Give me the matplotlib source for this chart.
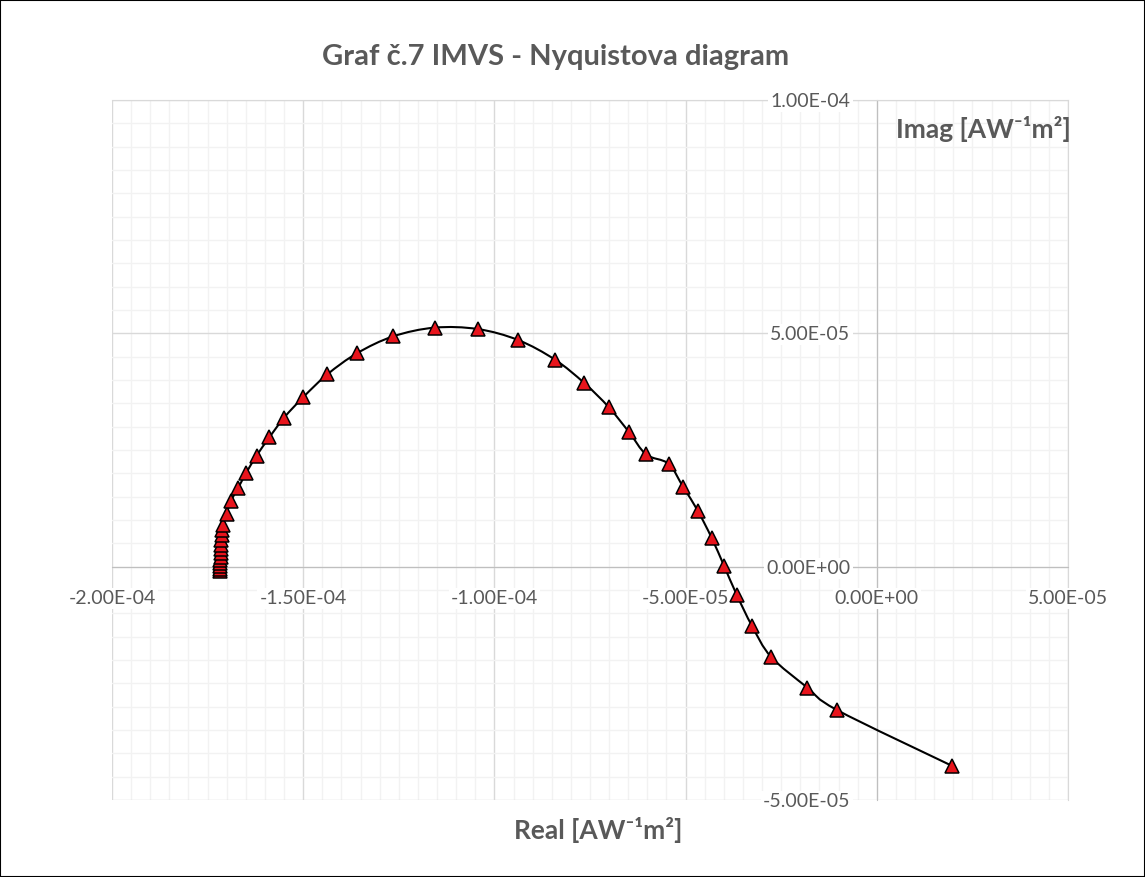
import numpy as np
import matplotlib
matplotlib.use("Agg")
import matplotlib.pyplot as plt
from matplotlib.path import Path
from matplotlib.patches import PathPatch, Rectangle
from matplotlib.ticker import MultipleLocator, FuncFormatter, NullFormatter

# IMVS měření - reálná a imaginární složka
real_part = [
    -1.7171e-4, -1.7170e-4, -1.7168e-4, -1.7165e-4, -1.7163e-4, -1.7160e-4,
    -1.7155e-4, -1.7150e-4, -1.7144e-4, -1.7139e-4, -1.7131e-4, -1.7123e-4,
    -1.7110e-4, -1.7000e-4, -1.6896e-4, -1.6705e-4, -1.6496e-4, -1.6216e-4,
    -1.5887e-4, -1.5502e-4, -1.4998e-4, -1.4370e-4, -1.3585e-4, -1.2644e-4,
    -1.1561e-4, -1.0437e-4, -9.378e-5, -8.416e-5, -7.649e-5, -7.011e-5,
    -6.473e-5, -6.031e-5, -5.447e-5, -5.060e-5, -4.684e-5, -4.318e-5,
    -3.996e-5, -3.664e-5, -3.259e-5, -2.767e-5, -1.818e-5, -1.033e-5,
    1.974e-5,
]
imag_part = [
    -8.6e-7, -4.3e-7, 2.1e-7, 8.6e-7, 1.50e-6, 2.15e-6,
    3.00e-6, 3.86e-6, 4.72e-6, 5.79e-6, 6.87e-6, 7.94e-6,
    9.01e-6, 1.137e-5, 1.401e-5, 1.680e-5, 2.002e-5, 2.382e-5,
    2.768e-5, 3.191e-5, 3.633e-5, 4.120e-5, 4.577e-5, 4.936e-5,
    5.122e-5, 5.092e-5, 4.856e-5, 4.436e-5, 3.934e-5, 3.419e-5,
    2.876e-5, 2.404e-5, 2.204e-5, 1.702e-5, 1.202e-5, 6.16e-6,
    2.1e-7, -6.01e-6, -1.277e-5, -1.931e-5, -2.590e-5, -3.075e-5,
    -4.271e-5,
]

TEXT_GREY = "#595959"
FONT = ["Lato", "DejaVu Sans"]
XLIM = (-2e-4, 5e-5)
YLIM = (-5e-5, 1e-4)


def smooth_path(x, y):
    # vyhlazená čára přes body (Catmull-Rom -> kubické Bézierovy úseky)
    pts = np.column_stack([x, y])
    n = len(pts)
    verts = [pts[0]]
    codes = [Path.MOVETO]
    for i in range(n - 1):
        p0 = pts[i - 1] if i > 0 else pts[i]
        p1 = pts[i]
        p2 = pts[i + 1]
        p3 = pts[i + 2] if i + 2 < n else pts[i + 1]
        c1 = p1 + (p2 - p0) / 6.0
        c2 = p2 - (p3 - p1) / 6.0
        verts += [c1, c2, p2]
        codes += [Path.CURVE4] * 3
    return Path(verts, codes)


fig = plt.figure(figsize=(11.45, 8.77), dpi=100)
rect = [112 / 1145, 1 - 800 / 877, (1068 - 112) / 1145, (800 - 100) / 877]

# spodní osy: mřížka a osové čáry
ax_bg = fig.add_axes(rect)
ax_bg.set_xlim(*XLIM)
ax_bg.set_ylim(*YLIM)
ax_bg.xaxis.set_major_locator(MultipleLocator(5e-5))
ax_bg.yaxis.set_major_locator(MultipleLocator(5e-5))
ax_bg.xaxis.set_minor_locator(MultipleLocator(5e-6))
ax_bg.yaxis.set_minor_locator(MultipleLocator(5e-6))
ax_bg.grid(which="minor", color="#f2f2f2", linewidth=1.0)
ax_bg.grid(which="major", color="#d9d9d9", linewidth=1.0)
ax_bg.xaxis.set_major_formatter(NullFormatter())
ax_bg.yaxis.set_major_formatter(NullFormatter())
ax_bg.tick_params(which="both", length=0)
ax_bg.spines["left"].set_position(("data", 0))
ax_bg.spines["bottom"].set_position(("data", 0))
for side in ["left", "bottom"]:
    ax_bg.spines[side].set_color("#bfbfbf")
for side in ["top", "right"]:
    ax_bg.spines[side].set_color("#d9d9d9")

# horní osy: popisky hodnot a data
ax = fig.add_axes(rect)
ax.set_xlim(*XLIM)
ax.set_ylim(*YLIM)
ax.patch.set_visible(False)
ax.spines["left"].set_position(("data", 0))
ax.spines["bottom"].set_position(("data", 0))
for side in ax.spines:
    ax.spines[side].set_visible(False)
ax.xaxis.set_major_locator(MultipleLocator(5e-5))
ax.yaxis.set_major_locator(MultipleLocator(5e-5))
fmt = FuncFormatter(lambda v, _: f"{v:.2E}")
ax.xaxis.set_major_formatter(fmt)
ax.yaxis.set_major_formatter(fmt)
ax.tick_params(which="both", length=0)
ax.tick_params(axis="x", pad=17, labelsize=14, labelcolor=TEXT_GREY)
ax.tick_params(axis="y", pad=19, labelsize=14, labelcolor=TEXT_GREY)
fig.canvas.draw()
for lbl in ax.get_xticklabels() + ax.get_yticklabels():
    lbl.set_fontfamily(FONT)
    lbl.set_bbox(dict(facecolor="white", edgecolor="none", pad=1.5))

ax.add_patch(PathPatch(smooth_path(real_part, imag_part), facecolor="none",
                       edgecolor="black", linewidth=1.5, zorder=3))
ax.plot(real_part, imag_part, linestyle="none", marker="^", markersize=10,
        markerfacecolor="#e8141c", markeredgecolor="black", markeredgewidth=1.1,
        zorder=4)

fig.text(556 / 1145, 1 - 57 / 877, "Graf č.7 IMVS - Nyquistova diagram", ha="center",
         va="center", fontsize=21, fontweight="bold", color=TEXT_GREY, family=FONT)
fig.text(1071 / 1145, 1 - 129 / 877, "Imag [AW⁻¹m²]", ha="right", va="center",
         fontsize=19, fontweight="bold", color=TEXT_GREY, family=FONT)
fig.text(598 / 1145, 1 - 830 / 877, "Real [AW⁻¹m²]", ha="center", va="center",
         fontsize=19, fontweight="bold", color=TEXT_GREY, family=FONT)

# rámeček kolem celého grafu
fig.patches.append(Rectangle((0, 0), 1, 1, transform=fig.transFigure, fill=False,
                             edgecolor="black", linewidth=1.5))

fig.savefig("out.png", dpi=100)
